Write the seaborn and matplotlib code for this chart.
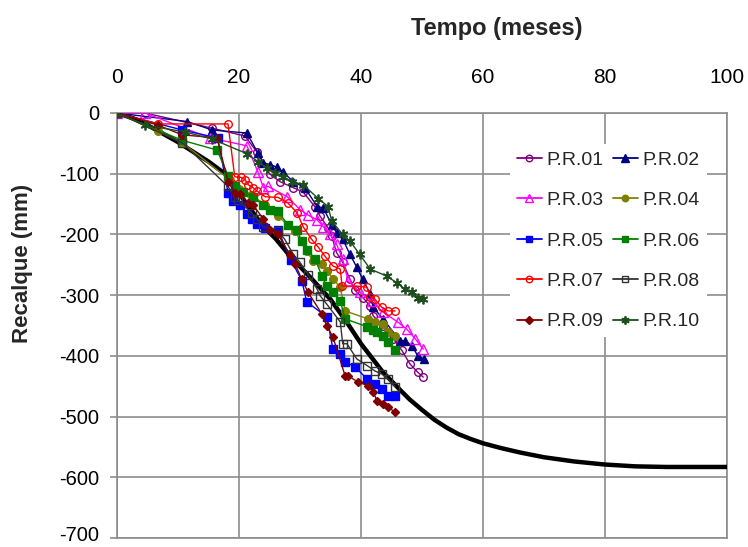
import matplotlib
matplotlib.use("Agg")
import matplotlib.pyplot as plt
import matplotlib.transforms as mtransforms
from matplotlib.lines import Line2D
import seaborn as sns
import pandas as pd

# ---------------- data ----------------
labels = ["P.R.01", "P.R.02", "P.R.03", "P.R.04", "P.R.05",
          "P.R.06", "P.R.07", "P.R.08", "P.R.09", "P.R.10"]

pr01_t = [0, 4.6, 15.6, 21.0, 23.0, 25.0, 26.7, 28.9, 30.5, 32.5, 33.3, 34.6, 35.2, 36.0, 37.0,
          38.2, 39.0, 40.4, 41.5, 42.0, 43.6, 45.3, 46.7, 48.0, 49.3, 50.2]
pr01_y = [0, 0, -25, -38, -65, -100, -113, -123, -130, -155, -170, -189, -203, -230, -246,
          -274, -292, -305, -318, -334, -351, -372, -391, -413, -427, -435]

pr02_t = [0, 11.5, 15.6, 21.3, 23.1, 24.0, 25.1, 26.2, 27.2, 28.9, 30.8, 32.8, 33.8, 35.2, 36.0,
          37.0, 38.2, 39.3, 40.3, 41.5, 42.0, 43.6, 46.4, 47.2, 48.4, 49.3, 50.3]
pr02_y = [0, -14, -28, -33, -66, -82, -85, -89, -97, -113, -123, -154, -156, -184, -197,
          -208, -233, -254, -274, -298, -320, -339, -375, -375, -384, -400, -405]

pr03_t = [0, 4.6, 15.2, 21.3, 23.1, 24.0, 24.8, 27.9, 30.0, 31.3, 32.8, 33.8, 34.9, 36.0, 37.0,
          37.9, 39.8, 41.8, 43.6, 46.0, 47.5, 48.9, 50.2]
pr03_y = [0, 0, -41, -54, -97, -123, -121, -138, -159, -168, -176, -187, -200, -216, -241,
          -277, -295, -310, -328, -344, -356, -372, -389]

pr04_t = [0, 6.7, 10.7, 18.5, 20.0, 22.0, 24.3, 26.4, 29.2, 31.1, 32.2, 33.6, 34.4, 35.4, 36.6,
          37.4, 41.1, 42.3, 43.6, 44.4, 45.6]
pr04_y = [0, -30, -49, -110, -125, -135, -151, -170, -195, -228, -244, -249, -260, -273, -287,
          -326, -339, -345, -348, -360, -368]

pr05_t = [0, 10.7, 16.5, 18.2, 19.0, 20.2, 21.3, 22.1, 23.0, 24.3, 26.4, 28.5, 30.3, 31.1, 34.4,
          35.4, 36.6, 37.4, 39.0, 41.0, 42.3, 43.4, 44.4, 45.6]
pr05_y = [0, -28, -41, -131, -145, -152, -166, -175, -182, -189, -193, -242, -276, -311, -336,
          -389, -397, -410, -418, -438, -446, -454, -466, -466]

pr06_t = [0, 10.7, 16.4, 18.2, 19.3, 20.7, 22.3, 24.0, 25.1, 26.4, 28.0, 29.5, 30.3, 31.1, 32.5,
          33.6, 34.4, 35.4, 36.6, 37.4, 41.0, 42.0, 42.6, 43.6, 44.4, 45.6]
pr06_y = [0, -45, -61, -103, -121, -130, -138, -152, -159, -162, -184, -193, -211, -225, -241,
          -269, -285, -295, -310, -339, -352, -357, -361, -368, -377, -390]

pr07_t = [0, 6.7, 18.2, 19.3, 20.3, 21.0, 21.5, 22.3, 23.0, 24.3, 26.4, 28.0, 29.5, 30.5, 31.9,
          33.0, 34.1, 35.4, 36.6, 36.9, 39.3, 41.0, 41.5, 42.3, 43.4, 44.4, 45.6]
pr07_y = [0, -18, -18, -105, -106, -110, -118, -123, -129, -138, -139, -148, -164, -187, -208,
          -221, -236, -252, -257, -285, -285, -287, -303, -307, -320, -326, -326]

pr08_t = [0, 10.7, 18.2, 19.3, 19.8, 22.1, 23.0, 24.0, 26.4, 27.5, 28.9, 30.0, 31.3, 32.8, 33.3,
          34.4, 36.6, 37.0, 37.7, 39.3, 41.0, 42.3, 43.4, 44.4, 45.6]
pr08_y = [0, -49, -121, -139, -143, -165, -175, -187, -195, -208, -233, -246, -266, -290, -301,
          -315, -344, -380, -380, -405, -416, -425, -430, -438, -451]

pr09_t = [0, 6.7, 10.7, 16.4, 18.2, 19.3, 20.2, 21.5, 22.3, 24.0, 25.1, 26.4, 28.4, 29.2, 30.3,
          31.3, 33.6, 34.4, 35.4, 37.4, 37.9, 39.5, 41.1, 42.0, 42.6, 43.6, 44.4, 45.6]
pr09_y = [0, -20, -36, -41, -113, -131, -134, -148, -151, -175, -192, -200, -234, -249, -274,
          -295, -331, -351, -369, -433, -433, -443, -449, -459, -474, -479, -484, -493]

pr10_t = [0, 4.6, 11.1, 15.6, 21.3, 23.1, 24.6, 25.9, 27.2, 28.7, 30.5, 33.0, 34.6, 35.2, 37.0,
          38.2, 39.8, 41.5, 44.3, 45.9, 47.2, 48.4, 49.3, 50.2]
pr10_y = [0, -20, -31, -43, -67, -80, -90, -98, -105, -113, -118, -141, -154, -178, -200,
          -211, -233, -257, -269, -280, -290, -295, -305, -307]

# theoretical curve (black)
curve_t = [0, 3, 5, 7, 10, 12.5, 15, 17.7, 20, 22, 24, 26, 28.4, 32, 35, 37.7, 40, 43.6, 46.4,
           48, 50, 52, 54, 56, 58, 60, 63, 66, 70, 75, 80, 85, 90, 100]
curve_y = [0, -10, -20, -31, -48, -64, -80, -100, -132, -160, -187, -207, -236, -274, -307, -345,
           -380, -427, -456, -472, -489, -505, -518, -529, -537, -544, -552, -559, -567, -574,
           -579, -582, -583, -583]

series_t = [pr01_t, pr02_t, pr03_t, pr04_t, pr05_t, pr06_t, pr07_t, pr08_t, pr09_t, pr10_t]
series_y = [pr01_y, pr02_y, pr03_y, pr04_y, pr05_y, pr06_y, pr07_y, pr08_y, pr09_y, pr10_y]

x_ticks = [0, 20, 40, 60, 80, 100]
y_ticks = [0, -100, -200, -300, -400, -500, -600, -700]

# ---------------- styles ----------------
colors = ["#800080", "#000080", "#FF00FF", "#808000", "#0000FF",
          "#008000", "#FF0000", "#333333", "#800000", "#1E4D1E"]
markers = ["o", "^", "^", "o", "s", "s", "o", "s", "D", (6, 2, 0)]
filled = [False, True, False, True, True, True, False, False, True, True]
msizes = [5.5, 6, 6.5, 5.5, 5.5, 5.5, 5.5, 5.5, 4.5, 7]

sns.set_theme(style="white")
plt.rcParams['font.family'] = ['Liberation Sans', 'DejaVu Sans']

fig = plt.figure(figsize=(7.48, 5.47), dpi=100)
ax = fig.add_axes([117 / 748, 1 - 538 / 547, 610 / 748, 425 / 547])

grid_c = "#8C8C8C"

# black curve
dfc = pd.DataFrame({"t": curve_t, "y": curve_y})
sns.lineplot(data=dfc, x="t", y="y", ax=ax, color="black", lw=3.2,
             estimator=None, sort=False, legend=False, zorder=3)

handles = []
for i in range(10):
    df = pd.DataFrame({"t": series_t[i], "y": series_y[i]})
    c = colors[i]
    mfc = c if filled[i] else "none"
    mew = 1.3 if i == 9 else 1.0
    sns.lineplot(data=df, x="t", y="y", ax=ax, color=c, lw=1.0,
                 marker=markers[i], markersize=msizes[i],
                 markerfacecolor=mfc, markeredgecolor=c, markeredgewidth=mew,
                 estimator=None, sort=False, legend=False, zorder=4 + i)
    handles.append(Line2D([0], [0], color=c, lw=1.3, marker=markers[i],
                          markersize=msizes[i] * 0.85, markerfacecolor=mfc,
                          markeredgecolor=c, markeredgewidth=mew))

ax.set_xlim(0, 100)
ax.set_ylim(-700, 0)
ax.set_xticks(x_ticks)
ax.set_yticks(y_ticks)
ax.set_xticklabels([str(v) for v in x_ticks])
ax.set_yticklabels([str(v) for v in y_ticks])
ax.xaxis.tick_top()
ax.grid(True, color=grid_c, lw=1.2)
ax.set_axisbelow(True)
for s in ax.spines.values():
    s.set_color(grid_c)
    s.set_linewidth(1.2)
ax.tick_params(axis="x", length=0, pad=19, labelsize=15, colors="black")
ax.tick_params(axis="y", length=5, width=1.2, color=grid_c, pad=8, labelsize=14.5,
               labelcolor="black", direction="out", left=True)
ax.set_xlabel("")
ax.set_ylabel("")

# keep the lowest tick label inside the canvas
last_lab = ax.get_yticklabels()[-1]
last_lab.set_transform(last_lab.get_transform() +
                       mtransforms.ScaledTranslation(0, 3.5 / 72, fig.dpi_scale_trans))

fig.text(497 / 748, 1 - 28 / 547, "Tempo (meses)", ha="center", va="center",
         fontsize=17, fontweight="bold")
fig.text(23 / 748, 1 - 263 / 547, "Recalque (mm)", ha="center", va="center",
         rotation=90, fontsize=16, fontweight="bold")

order = [0, 2, 4, 6, 8, 1, 3, 5, 7, 9]
leg = ax.legend([handles[k] for k in order], [labels[k] for k in order], ncol=2,
                loc="upper left", bbox_to_anchor=(0.644, 0.926), frameon=True,
                facecolor="white", edgecolor="none", fancybox=False, framealpha=1,
                fontsize=14, handlelength=1.3, handletextpad=0.25, columnspacing=0.45,
                labelspacing=1.17, borderaxespad=0, borderpad=0.35)
leg.set_zorder(20)

fig.savefig("out.png", dpi=100)
